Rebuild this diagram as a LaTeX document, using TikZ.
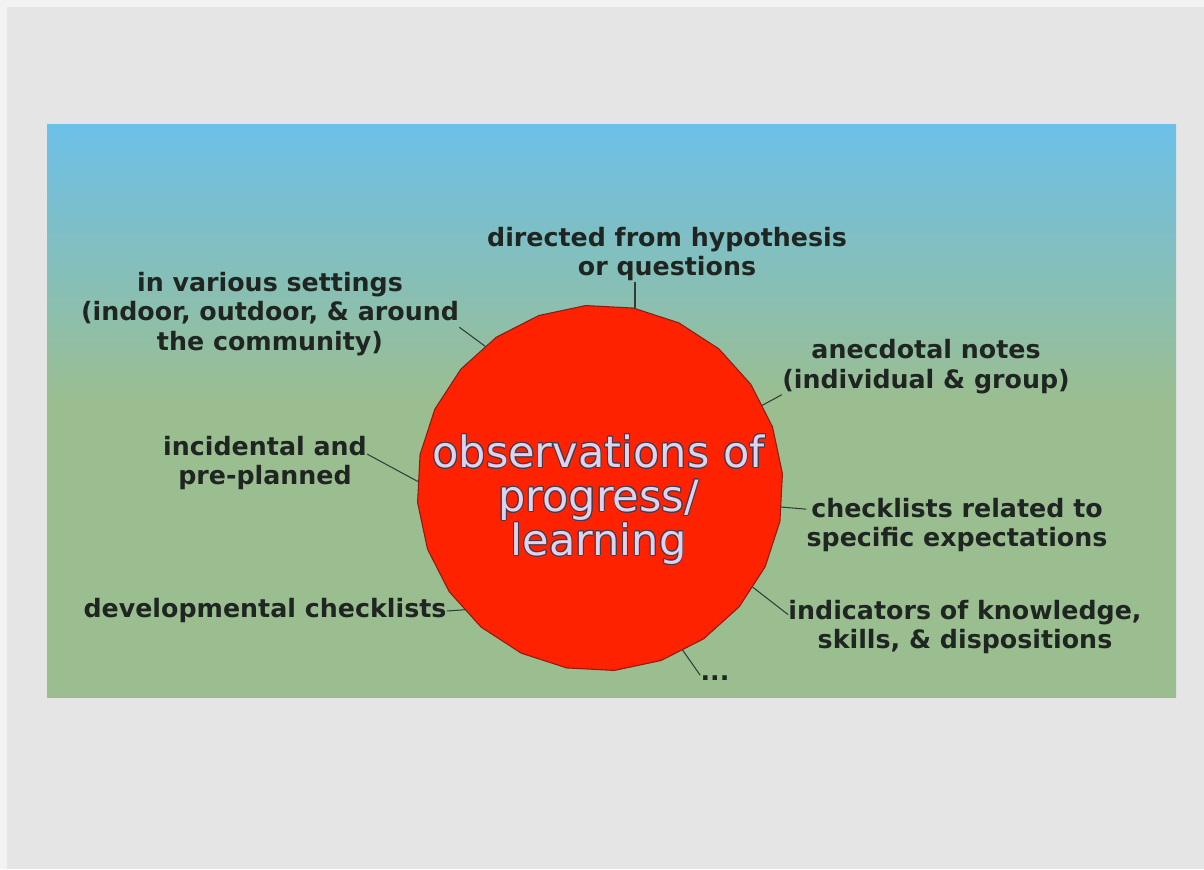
\documentclass[tikz,border=0pt]{standalone}
\usepackage{fontspec}
\setmainfont{DejaVu Sans}
\usepackage[copies]{contour}
\usetikzlibrary{shapes.geometric}
\definecolor{paper}{HTML}{E5E5E5}
\definecolor{paperedge}{HTML}{F2F2F2}
\definecolor{panelblue}{HTML}{6CC0E8}
\definecolor{panelgreen}{HTML}{9BBE91}
\definecolor{obsred}{HTML}{FF2200}
\definecolor{obsedge}{HTML}{8A1C12}
\definecolor{obsfill}{HTML}{DCD3EC}
\definecolor{obsline}{HTML}{4A3A4C}
\definecolor{ideatext}{HTML}{1F2622}
\definecolor{linkgrey}{HTML}{2F3F37}
\pgfdeclareverticalshading{panelshade}{100bp}{color(0bp)=(panelgreen); color(25bp)=(panelgreen); color(51bp)=(panelgreen); color(75bp)=(panelblue); color(100bp)=(panelblue)}
\contourlength{0.5pt}

\begin{document}
\begin{tikzpicture}[font=\fontsize{14.4}{17}\selectfont\bfseries,
    idea/.style={text=ideatext, align=center, inner sep=0pt},
    link/.style={draw=linkgrey, line width=0.6pt}]
	% paper and panel
	\fill[paperedge] (0,0) rectangle (24.08,17.38);
	\fill[paper] (0.14,0) rectangle (24.08,17.24);
	\fill[shading=panelshade] (0.94,3.42) rectangle (23.52,14.88);
	% centre
	\node[regular polygon, regular polygon sides=24, shape border rotate=-3, minimum size=7.32cm, inner sep=0pt,
	      fill=obsred, draw=obsedge, line width=0.6pt] (obs) at (12.0,7.62) {};
	\node[text=obsfill, align=center, inner sep=0pt, font=\fontsize{24.5}{25}\selectfont] (obstext) at (11.97,7.38)
	      {\contour{obsline}{observations of}\\\contour{obsline}{progress/}\\\contour{obsline}{learning}};
	% ideas
	\node[idea] (hyp) at (13.34,12.30) {directed from hypothesis\\or questions};
	\node[idea] (set) at (5.40,11.10) {in various settings\\(indoor, outdoor, \& around\\the community)};
	\node[idea] (anec) at (18.52,10.04) {anecdotal notes\\(individual \& group)};
	\node[idea] (incid) at (5.30,8.12) {incidental and\\pre-planned};
	\node[idea] (check) at (19.14,6.88) {checklists related to\\specific expectations};
	\node[idea] (indic) at (19.30,4.84) {indicators of knowledge,\\skills, \& dispositions};
	\node[idea] (dev) at (5.30,5.16) {developmental checklists};
	\node[idea] (dots) at (14.30,3.82) {...};
	% links
	\draw[link] (obs.79) -- (obs.79 |- hyp.south);
	\draw[link] (set.-4) -- (obs.129);
	\draw[link] (anec.south west) -- (obs.27);
	\draw[link] (incid.5) -- (obs.178);
	\draw[link] (check.174) -- (obs.-6);
	\draw[link] (indic.176) -- (obs.-33);
	\draw[link] (dev.east) -- (obs.222);
	\draw[link] (dots.north west) -- (obs.-63);
\end{tikzpicture}
\end{document}
